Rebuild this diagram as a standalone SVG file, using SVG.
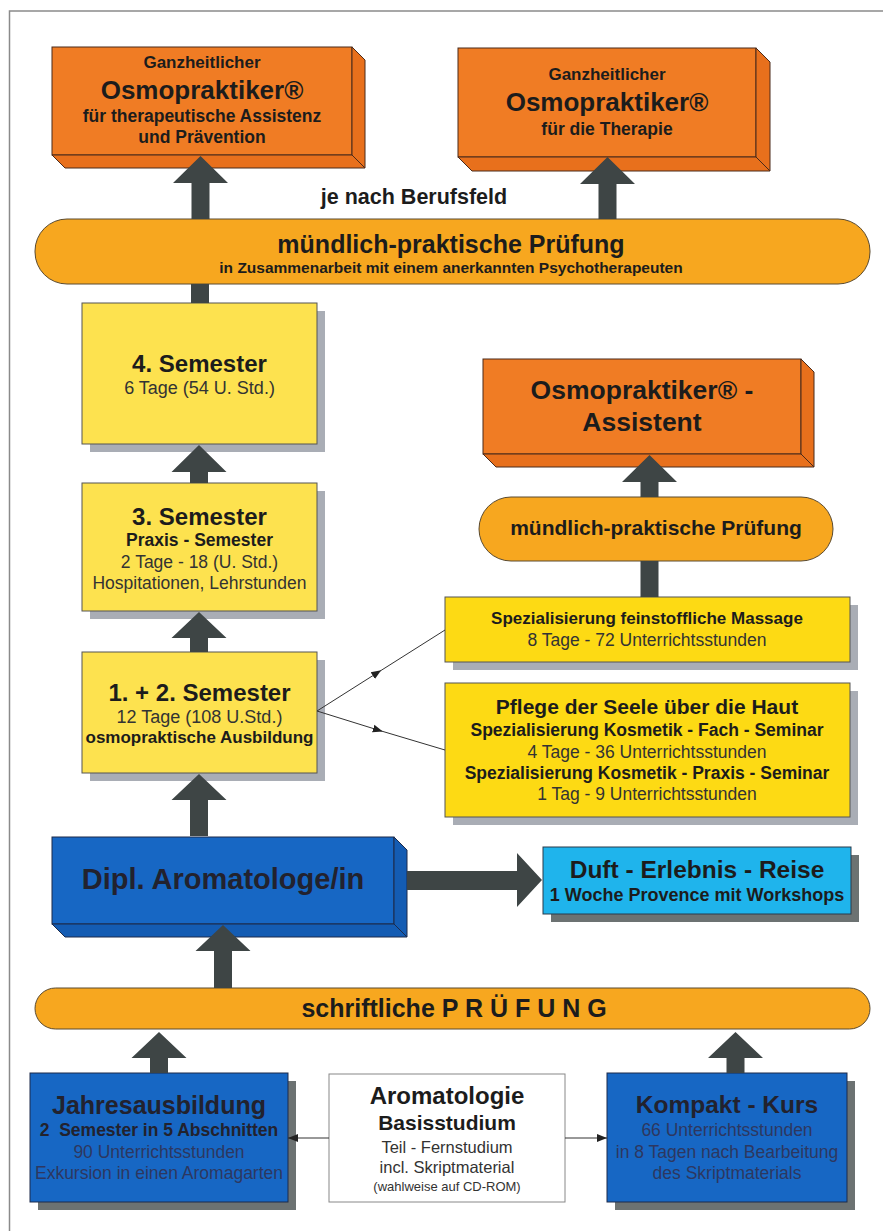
<svg xmlns="http://www.w3.org/2000/svg" width="883" height="1231" viewBox="0 0 883 1231">
<style>
text{font-family:"Liberation Sans",Arial,sans-serif;text-anchor:middle;fill:#1c1c1c}
.b{font-weight:bold}
.r{fill:#333}
.rb{fill:#2d3760}
.tb{fill:#22222e}
.org{fill:#f07c24;stroke:#4a2a1a;stroke-width:1}
.orgs{fill:#e8701c;stroke:#4a2a1a;stroke-width:1}
.blu{fill:#1767c4;stroke:#1d2a4a;stroke-width:1}
.blus{fill:#145cb3;stroke:#1d2a4a;stroke-width:1}
.yel{fill:#fde24f;stroke:#555;stroke-width:1}
.yel2{fill:#fdda14;stroke:#555;stroke-width:1}
.shl{fill:#a9adb5}
.shd{fill:#6c7272}
.pill{fill:#f7a71f;stroke:#5a4a30;stroke-width:1}
.arr{fill:#3e4545}
.thin{stroke:#333;stroke-width:1;fill:none}
</style>
<defs>
<marker id="mid" viewBox="0 0 10 10" refX="5" refY="5" markerWidth="10" markerHeight="10" markerUnits="userSpaceOnUse" orient="auto"><path d="M0,1 L10,5 L0,9 z" fill="#222"/></marker>
<marker id="end" viewBox="0 0 10 10" refX="10" refY="5" markerWidth="10" markerHeight="10" markerUnits="userSpaceOnUse" orient="auto"><path d="M0,1 L10,5 L0,9 z" fill="#222"/></marker>
</defs>
<rect width="883" height="1231" fill="#fff"/>
<path d="M9.5,1231 V11 H883" fill="none" stroke="#8a8a8a" stroke-width="1.5"/>

<g id="osmo-assistenz">
<rect class="org" x="52" y="47" width="300" height="108"/>
<polygon class="orgs" points="352,47 365,60 365,168 352,155"/>
<polygon class="orgs" points="52,155 352,155 365,168 65,168"/>
<text class="b" x="202" y="68" font-size="17">Ganzheitlicher</text>
<text class="b" x="202" y="99" font-size="26">Osmopraktiker®</text>
<text class="b" x="202" y="122" font-size="17.5">für therapeutische Assistenz</text>
<text class="b" x="202" y="143" font-size="17.5">und Prävention</text>
</g>

<g id="osmo-therapie">
<rect class="org" x="458" y="48" width="298" height="109"/>
<polygon class="orgs" points="756,48 770,62 770,171 756,157"/>
<polygon class="orgs" points="458,157 756,157 770,171 472,171"/>
<text class="b" x="607" y="80" font-size="17">Ganzheitlicher</text>
<text class="b" x="607" y="111" font-size="26">Osmopraktiker®</text>
<text class="b" x="607" y="135" font-size="17.5">für die Therapie</text>
</g>

<g id="berufsfeld">
<text class="b" x="414" y="204" font-size="21.5">je nach Berufsfeld</text>
</g>

<g id="pruefung-muendlich">
<rect class="pill" x="35" y="219" width="835" height="65" rx="32" ry="32"/>
<text class="b" x="451" y="253" font-size="25">mündlich-praktische Prüfung</text>
<text class="b" x="451" y="273" font-size="15.5">in Zusammenarbeit mit einem anerkannten Psychotherapeuten</text>
</g>

<g id="sem4">
<rect class="shl" x="90" y="311" width="235" height="141"/>
<rect class="yel" x="82" y="303" width="235" height="141"/>
<text class="b" x="199.5" y="372" font-size="24">4. Semester</text>
<text class="r" x="199.5" y="394" font-size="18">6 Tage (54 U. Std.)</text>
</g>

<g id="sem3">
<rect class="shl" x="90" y="491" width="235" height="128"/>
<rect class="yel" x="82" y="483" width="235" height="128"/>
<text class="b" x="199.5" y="525" font-size="24">3. Semester</text>
<text class="b" x="199.5" y="546" font-size="17.5">Praxis - Semester</text>
<text class="r" x="199.5" y="568" font-size="17.5">2 Tage - 18 (U. Std.)</text>
<text class="r" x="199.5" y="589" font-size="17.5">Hospitationen, Lehrstunden</text>
</g>

<g id="sem12">
<rect class="shl" x="90" y="660" width="235" height="121"/>
<rect class="yel" x="82" y="652" width="235" height="121"/>
<text class="b" x="199.5" y="701" font-size="24">1. + 2. Semester</text>
<text class="r" x="199.5" y="723" font-size="18">12 Tage (108 U.Std.)</text>
<text class="b" x="199.5" y="743" font-size="17">osmopraktische Ausbildung</text>
</g>

<g id="osmo-assistent">
<rect class="org" x="483" y="359" width="318" height="95"/>
<polygon class="orgs" points="801,359 814,372 814,467 801,454"/>
<polygon class="orgs" points="483,454 801,454 814,467 496,467"/>
<text class="b" x="642" y="399" font-size="26.5">Osmopraktiker® -</text>
<text class="b" x="642" y="431" font-size="26.5">Assistent</text>
</g>

<g id="pruefung-assistent">
<rect class="pill" x="479" y="497" width="354" height="64" rx="32" ry="32"/>
<text class="b" x="656" y="535" font-size="21">mündlich-praktische Prüfung</text>
</g>

<g id="spez-massage">
<rect class="shl" x="453" y="605" width="405" height="65"/>
<rect class="yel2" x="445" y="597" width="405" height="65"/>
<text class="b" x="647" y="624" font-size="17">Spezialisierung feinstoffliche Massage</text>
<text class="r" x="647" y="646" font-size="17.5">8 Tage - 72 Unterrichtsstunden</text>
</g>

<g id="spez-kosmetik">
<rect class="shl" x="453" y="691" width="405" height="134"/>
<rect class="yel2" x="445" y="683" width="405" height="134"/>
<text class="b" x="647" y="714" font-size="21">Pflege der Seele über die Haut</text>
<text class="b" x="647" y="736" font-size="17.5">Spezialisierung Kosmetik - Fach - Seminar</text>
<text class="r" x="647" y="758" font-size="17.5">4 Tage - 36 Unterrichtsstunden</text>
<text class="b" x="647" y="779" font-size="17.5">Spezialisierung Kosmetik - Praxis - Seminar</text>
<text class="r" x="647" y="800" font-size="17.5">1 Tag - 9 Unterrichtsstunden</text>
</g>

<g id="dipl">
<rect class="blu" x="52" y="837" width="342" height="87"/>
<polygon class="blus" points="394,837 407,850 407,937 394,924"/>
<polygon class="blus" points="52,924 394,924 407,937 65,937"/>
<text class="b tb" x="223" y="889" font-size="29">Dipl. Aromatologe/in</text>
</g>

<g id="duft">
<rect class="shd" x="551" y="855" width="308" height="67"/>
<rect x="543" y="847" width="308" height="67" fill="#1fb4ec" stroke="#2a3a4a" stroke-width="1"/>
<text class="b" x="697" y="878" font-size="24.5">Duft - Erlebnis - Reise</text>
<text class="b" x="697" y="901" font-size="18">1 Woche Provence mit Workshops</text>
</g>

<g id="pruefung-schriftlich">
<rect class="pill" x="35" y="988" width="835" height="41" rx="20.5" ry="20.5"/>
<text class="b" x="454" y="1017" font-size="25">schriftliche P R Ü F U N G</text>
</g>

<g id="jahres">
<rect class="shd" x="38" y="1081" width="258" height="129"/>
<rect class="blu" x="30" y="1073" width="258" height="129"/>
<text class="b tb" x="159" y="1114" font-size="25">Jahresausbildung</text>
<text class="b tb" x="159" y="1136" font-size="17.5" xml:space="preserve">2  Semester in 5 Abschnitten</text>
<text class="rb" x="159" y="1158" font-size="17.5">90 Unterrichtsstunden</text>
<text class="rb" x="159" y="1179" font-size="17.5">Exkursion in einen Aromagarten</text>
</g>

<g id="aromatologie">
<rect x="329" y="1074" width="236" height="128" fill="#fff" stroke="#888" stroke-width="1"/>
<text class="b" x="447" y="1104" font-size="24">Aromatologie</text>
<text class="b" x="447" y="1130" font-size="21">Basisstudium</text>
<text class="r" x="447" y="1153" font-size="16.5">Teil - Fernstudium</text>
<text class="r" x="447" y="1173" font-size="16.5">incl. Skriptmaterial</text>
<text class="r" x="447" y="1191" font-size="13">(wahlweise auf CD-ROM)</text>
</g>

<g id="kompakt">
<rect class="shd" x="615" y="1081" width="240" height="129"/>
<rect class="blu" x="607" y="1073" width="240" height="129"/>
<text class="b tb" x="727" y="1113" font-size="24.5">Kompakt - Kurs</text>
<text class="rb" x="727" y="1136" font-size="17.5">66 Unterrichtsstunden</text>
<text class="rb" x="727" y="1158" font-size="17.5">in 8 Tagen nach Bearbeitung</text>
<text class="rb" x="727" y="1179" font-size="17.5">des Skriptmaterials</text>
</g>

<g id="connectors">
<polygon class="arr" points="200.5,156 228,183 209.5,183 209.5,219 191.5,219 191.5,183 173,183"/>
<polygon class="arr" points="607.5,157 635,184 616.5,184 616.5,219 598.5,219 598.5,184 580,184"/>
<rect class="arr" x="191" y="284" width="18" height="19"/>
<polygon class="arr" points="199,445 226.5,472 208,472 208,483 190,483 190,472 171.5,472"/>
<polygon class="arr" points="199,612 226.5,638 208,638 208,652 190,652 190,638 171.5,638"/>
<polygon class="arr" points="199,774 226.5,800 208,800 208,836 190,836 190,800 171.5,800"/>
<polygon class="arr" points="649.5,455 677,482 658.5,482 658.5,497 640.5,497 640.5,482 622,482"/>
<rect class="arr" x="640.5" y="561" width="18" height="36"/>
<polygon class="arr" points="223,925 250.5,951 232,951 232,988 214,988 214,951 195.5,951"/>
<polygon class="arr" points="159,1032 186.5,1058 168,1058 168,1073 150,1073 150,1058 131.5,1058"/>
<polygon class="arr" points="735.5,1032 763,1058 744.5,1058 744.5,1073 726.5,1073 726.5,1058 708,1058"/>
<polygon class="arr" points="542,880 517,907 517,890 407,890 407,871 517,871 517,853"/>
<polyline class="thin" points="317,711 377,673 445,630" marker-mid="url(#mid)"/>
<polyline class="thin" points="317,711 378,730 445,750" marker-mid="url(#mid)"/>
<line class="thin" x1="329" y1="1138" x2="288" y2="1138" marker-end="url(#end)"/>
<line class="thin" x1="565" y1="1138" x2="607" y2="1138" marker-end="url(#end)"/>
</g>
</svg>
